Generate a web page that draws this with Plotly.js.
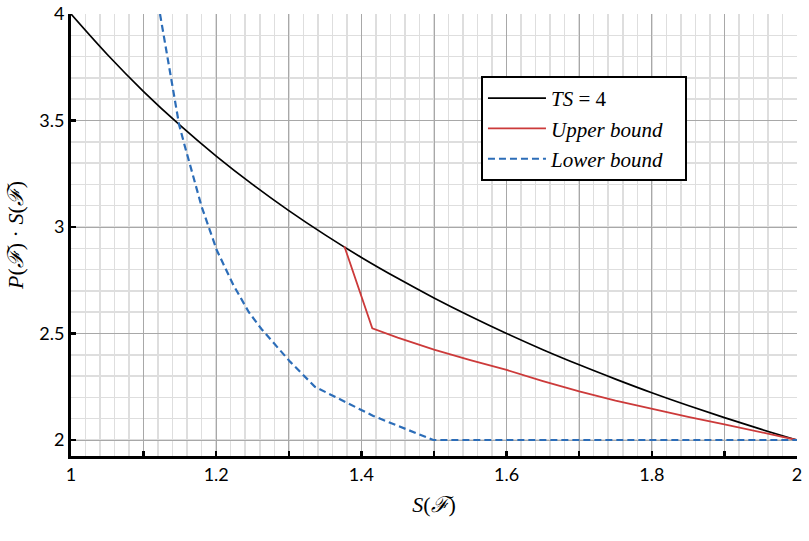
<!DOCTYPE html>
<html>
<head>
<meta charset="utf-8">
<script src="https://cdn.plot.ly/plotly-3.0.1.min.js"></script>
<style>html,body{margin:0;padding:0;background:#fff;}</style>
</head>
<body>
<div id="chart" style="width:809px;height:541px;"></div>
<script>
// TS = 4 curve
const tsX = [1.0, 1.05, 1.1, 1.15, 1.2, 1.25, 1.3, 1.35, 1.4, 1.45, 1.5, 1.55, 1.6, 1.65, 1.7, 1.75, 1.8, 1.85, 1.9, 1.95, 2.0];
const tsY = [4.0, 3.81, 3.636, 3.478, 3.333, 3.2, 3.077, 2.963, 2.857, 2.759, 2.667, 2.581, 2.5, 2.424, 2.353, 2.286, 2.222, 2.162, 2.105, 2.051, 2.0];

// Upper bound (red)
const upX = [1.3765, 1.415, 1.45, 1.5, 1.55, 1.6, 1.65, 1.7, 1.75, 1.8, 1.85, 1.9, 1.95, 2.0];
const upY = [2.91, 2.524, 2.481, 2.424, 2.375, 2.329, 2.277, 2.228, 2.185, 2.146, 2.109, 2.074, 2.037, 2.0];

// Lower bound (blue dashed)
const loX = [1.1226, 1.1433, 1.149, 1.157, 1.18, 1.2007, 1.2236, 1.245, 1.2626, 1.3017, 1.336, 1.4164, 1.499, 2.0];
const loY = [4.0, 3.596, 3.479, 3.377, 3.095, 2.892, 2.728, 2.6, 2.52, 2.368, 2.25, 2.113, 2.0, 2.0];

const xTickVals = [1, 1.1, 1.2, 1.3, 1.4, 1.5, 1.6, 1.7, 1.8, 1.9, 2];
const xTickText = ["1", "", "1.2", "", "1.4", "", "1.6", "", "1.8", "", "2"];
const yTickVals = [2, 2.5, 3, 3.5, 4];
const yTickText = ["2", "2.5", "3", "3.5", "4"];

const mathFont = "Liberation Serif, DejaVu Serif, serif";
const tickFont = "Lato, Open Sans, sans-serif";

const traces = [
  {x: tsX, y: tsY, type: "scatter", mode: "lines", name: "<i>TS</i> = 4",
   line: {color: "#000000", width: 1.7, shape: "spline"}, legendgroup: "a"},
  {x: upX, y: upY, type: "scatter", mode: "lines", name: "<i>Upper bound</i>",
   line: {color: "#cc3a3a", width: 1.8}, legendgroup: "b"},
  {x: loX, y: loY, type: "scatter", mode: "lines", name: "<i>Lower bound</i>&nbsp;&nbsp;&nbsp;",
   line: {color: "#2c6db8", width: 2.2, dash: "7px,4px"}, legendgroup: "c"}
];

const layout = {
  width: 809, height: 541,
  margin: {l: 71, r: 12, t: 14, b: 85},
  paper_bgcolor: "#ffffff", plot_bgcolor: "#ffffff",
  showlegend: true,
  legend: {
    x: 0.5647, y: 0.8597, xanchor: "left", yanchor: "top",
    bgcolor: "#ffffff", bordercolor: "#000000", borderwidth: 2,
    font: {family: mathFont, size: 21, color: "#000"},
    itemwidth: 58,
    tracegroupgap: 10, traceorder: "normal"
  },
  xaxis: {
    range: [1, 2],
    tickmode: "array", tickvals: xTickVals, ticktext: xTickText,
    ticks: "inside", ticklen: 5, tickwidth: 2.5, tickcolor: "#000",
    showline: true, linecolor: "#000", linewidth: 3, mirror: false,
    showgrid: true, gridcolor: "#a8a8a8", gridwidth: 1,
    minor: {dtick: 0.02, tick0: 1, showgrid: true, gridcolor: "#dedede", gridwidth: 1.5, ticks: ""},
    zeroline: false,
    tickfont: {family: tickFont, size: 18, color: "#000"},
    title: {text: "<i>S</i>(<i>ℱ</i>)", font: {family: mathFont, size: 22, color: "#000"}, standoff: 14}
  },
  yaxis: {
    range: [1.925, 4],
    tickmode: "array", tickvals: yTickVals, ticktext: yTickText,
    ticks: "inside", ticklen: 5, tickwidth: 2.5, tickcolor: "#000",
    showline: true, linecolor: "#000", linewidth: 3, mirror: false,
    showgrid: true, gridcolor: "#a8a8a8", gridwidth: 1,
    minor: {dtick: 0.1, tick0: 2, showgrid: true, gridcolor: "#dedede", gridwidth: 1.5, ticks: ""},
    zeroline: false,
    tickfont: {family: tickFont, size: 18, color: "#000"},
    title: {text: "<i>P</i>(<i>ℱ</i>) · <i>S</i>(<i>ℱ</i>)", font: {family: mathFont, size: 22, color: "#000"}, standoff: 10}
  }
};

Plotly.newPlot("chart", traces, layout, {displayModeBar: false, staticPlot: true});
</script>
</body>
</html>
